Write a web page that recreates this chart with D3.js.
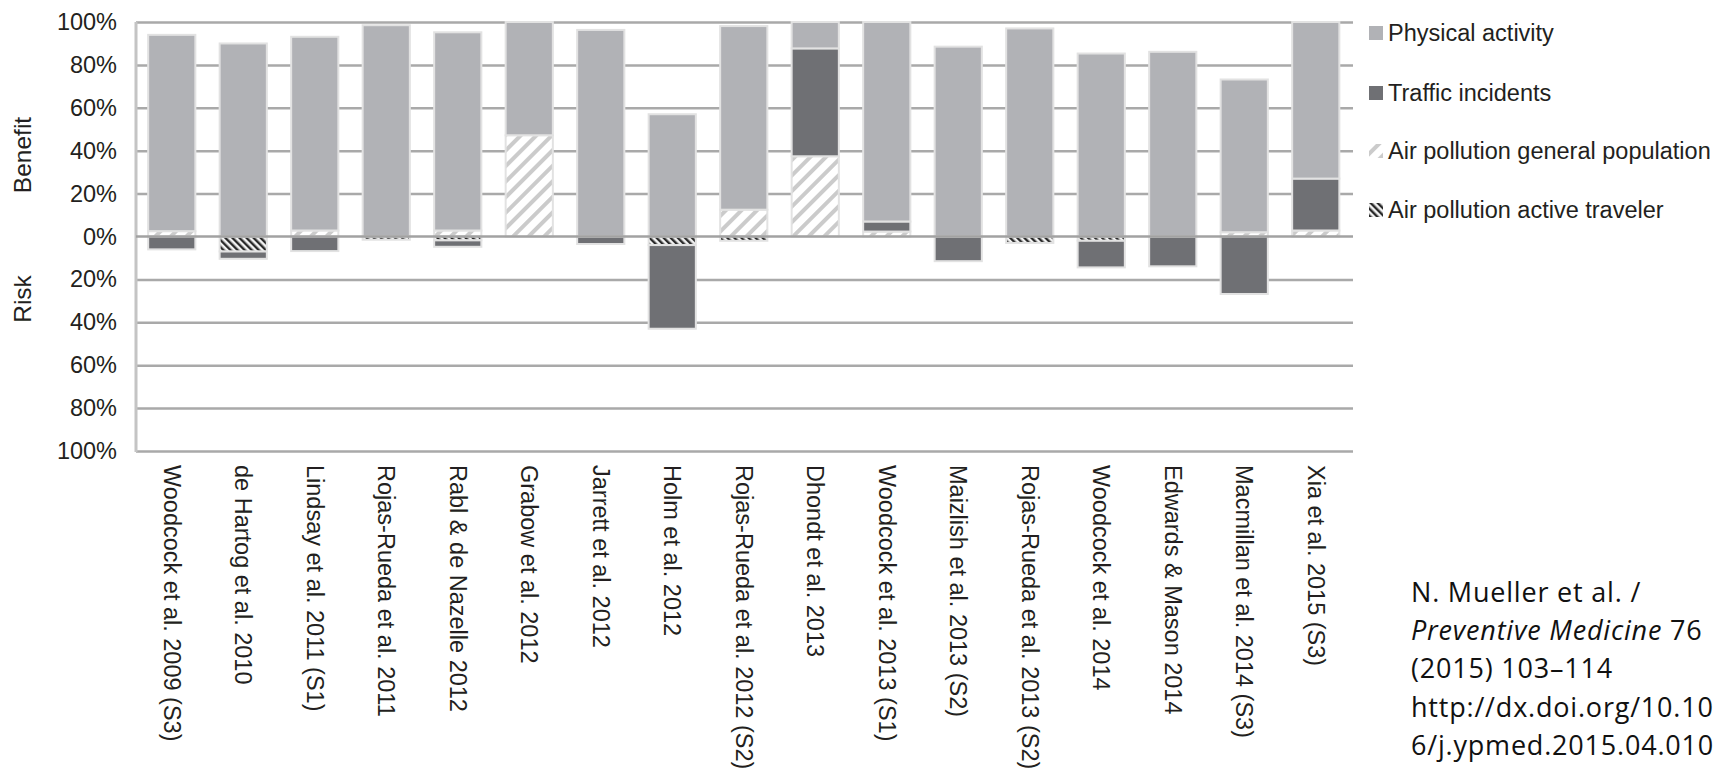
<!DOCTYPE html>
<html>
<head>
<meta charset="utf-8">
<script src="https://cdn.jsdelivr.net/npm/d3@7"></script>
<style>
  html, body { margin: 0; padding: 0; background: #fff; }
  svg { display: block; }
</style>
</head>
<body>
<svg id="chart" width="1716" height="773"></svg>
<script>
// Benefit (+) and risk (−) shares per study, in percent
const categories = [
  "Woodcock et al. 2009 (S3)", "de Hartog et al. 2010", "Lindsay et al. 2011 (S1)",
  "Rojas-Rueda et al. 2011", "Rabl & de Nazelle 2012", "Grabow et al. 2012",
  "Jarrett et al. 2012", "Holm et al. 2012", "Rojas-Rueda et al. 2012 (S2)",
  "Dhondt et al. 2013", "Woodcock et al. 2013 (S1)", "Maizlish et al. 2013 (S2)",
  "Rojas-Rueda et al. 2013 (S2)", "Woodcock et al. 2014", "Edwards & Mason 2014",
  "Macmillan et al. 2014 (S3)", "Xia et al. 2015 (S3)"
];
const physicalActivity     = [91.5, 90, 90.3, 98.5, 92.4, 52.8, 96.3, 57, 85.6, 12.3, 93, 88.5, 97, 85.3, 86.1, 71.2, 73];
const trafficIncidents     = [-6, -3.4, -6.8, 0, -3, 0, -3.5, -39, 0, 50.3, 4.7, -11.5, 0, -12.4, -13.9, -26.8, 24.2];
const airPollutionGeneral  = [2.5, 0, 2.8, 0, 2.8, 47.2, 0, 0, 12.5, 37.4, 2.3, 0, 0, 0, 0, 2, 2.8];
const airPollutionActive   = [0, -7, 0, -1.5, -1.8, 0, 0, -4, -2, 0, 0, 0, -3, -2, 0, 0, 0];

const seriesNames = ["Physical activity", "Traffic incidents", "Air pollution general population", "Air pollution active traveler"];
const tickValues = [-100, -80, -60, -40, -20, 0, 20, 40, 60, 80, 100];
const citationLines = [
  [{ t: "N. Mueller et al. /" }],
  [{ t: "Preventive Medicine", italic: true }, { t: " 76" }],
  [{ t: "(2015) 103\u2013114" }],
  [{ t: "http://dx.doi.org/10.10" }],
  [{ t: "6/j.ypmed.2015.04.010" }]
];

const rows = categories.map((c, i) => ({
  study: c,
  apGen: airPollutionGeneral[i],
  apActive: airPollutionActive[i],
  traffic: trafficIncidents[i],
  pa: physicalActivity[i]
}));

const FONT = "'Liberation Sans', Arial, Helvetica, sans-serif";
const TEXT = "#231f20";
const PA_FILL = "#b1b2b6";
const TRAFFIC_FILL = "#6f7074";

const svg = d3.select("#chart");
const plotLeft = 136, plotRight = 1353, plotTop = 22, plotBottom = 451;

// patterns
const defs = svg.append("defs");
const hatch = defs.append("pattern")
  .attr("id", "hatchGen").attr("patternUnits", "userSpaceOnUse")
  .attr("width", 11).attr("height", 11).attr("patternTransform", "rotate(45)");
hatch.append("rect").attr("width", 11).attr("height", 11).attr("fill", "#fff");
hatch.append("rect").attr("x", 0).attr("width", 4).attr("height", 11).attr("fill", "#cbcbcb");

const check = defs.append("pattern")
  .attr("id", "checkActive").attr("patternUnits", "userSpaceOnUse")
  .attr("width", 5).attr("height", 5).attr("patternTransform", "rotate(-45)");
check.append("rect").attr("width", 5).attr("height", 5).attr("fill", "#f2f2f2");
check.append("rect").attr("x", 0).attr("width", 2.4).attr("height", 5).attr("fill", "#2b2b2b");

const fills = {
  pa: PA_FILL,
  traffic: TRAFFIC_FILL,
  apGen: "url(#hatchGen)",
  apActive: "url(#checkActive)"
};

const x = d3.scaleBand().domain(categories).range([plotLeft, 1351.5]).paddingInner(0.34).paddingOuter(0.17);
const y = d3.scaleLinear().domain([-100, 100]).range([plotBottom, plotTop]);

// gridlines + tick labels
const axis = d3.axisLeft(y)
  .tickValues(tickValues)
  .tickSize(-(plotRight - plotLeft))
  .tickPadding(19)
  .tickFormat(d => Math.abs(d) + "%");

const gAxis = svg.append("g").attr("transform", `translate(${plotLeft},0)`).call(axis);
gAxis.select(".domain").remove();
gAxis.selectAll(".tick line")
  .attr("stroke", "#a9a9a9").attr("stroke-width", 2.5)
  .attr("opacity", d => d === 0 ? 0 : 1);
gAxis.selectAll(".tick text")
  .attr("font-family", FONT).attr("font-size", 23.5).attr("fill", TEXT);

// left axis line
svg.append("line")
  .attr("x1", plotLeft).attr("x2", plotLeft).attr("y1", plotTop).attr("y2", plotBottom + 1)
  .attr("stroke", "#c4c4c4").attr("stroke-width", 3);

// stacked bars
const stack = d3.stack()
  .keys(["apGen", "apActive", "traffic", "pa"])
  .offset(d3.stackOffsetDiverging);
const series = stack(rows);

svg.append("g").selectAll("g")
  .data(series)
  .join("g")
  .attr("fill", s => fills[s.key])
  .selectAll("rect")
  .data(s => s.filter(d => Math.abs(d[1] - d[0]) > 0))
  .join("rect")
  .attr("x", d => x(d.data.study))
  .attr("y", d => y(Math.max(d[0], d[1])))
  .attr("width", x.bandwidth())
  .attr("height", d => Math.abs(y(d[0]) - y(d[1])))
  .attr("stroke", "#e2e2e2")
  .attr("stroke-width", 2);

// zero line drawn over the bars
svg.append("line")
  .attr("x1", plotLeft).attr("x2", plotRight).attr("y1", y(0)).attr("y2", y(0))
  .attr("stroke", "#a2a2a2").attr("stroke-width", 2.5);

// category labels, rotated
svg.append("g").selectAll("text")
  .data(categories)
  .join("text")
  .attr("transform", d => `translate(${x(d) + x.bandwidth() / 2},465) rotate(90)`)
  .attr("dy", "0.35em")
  .attr("font-family", FONT).attr("font-size", 23.5).attr("fill", TEXT)
  .text(d => d);

// axis titles
svg.append("text")
  .attr("transform", `translate(22,155) rotate(-90)`)
  .attr("text-anchor", "middle").attr("dy", "0.35em")
  .attr("font-family", FONT).attr("font-size", 24.5).attr("fill", TEXT)
  .text("Benefit");
svg.append("text")
  .attr("transform", `translate(22,299) rotate(-90)`)
  .attr("text-anchor", "middle").attr("dy", "0.35em")
  .attr("font-family", FONT).attr("font-size", 24.5).attr("fill", TEXT)
  .text("Risk");

// legend
const legendKeys = ["pa", "traffic", "apGen", "apActive"];
const legendY = [33, 93, 151, 210];
const legend = svg.append("g").selectAll("g")
  .data(legendKeys)
  .join("g")
  .attr("transform", (d, i) => `translate(1369,${legendY[i]})`);
legend.append("rect")
  .attr("x", 0).attr("y", -7).attr("width", 14).attr("height", 14)
  .attr("fill", d => fills[d]);
legend.append("text")
  .attr("x", 19).attr("dy", "0.35em")
  .attr("font-family", FONT).attr("font-size", 23.5).attr("fill", TEXT)
  .text((d, i) => seriesNames[i]);

// citation
const cite = svg.append("g").selectAll("text")
  .data(citationLines)
  .join("text")
  .attr("x", 1411)
  .attr("y", (d, i) => 602 + i * 38.2)
  .attr("font-family", "'Open Sans', 'Noto Sans', sans-serif")
  .attr("font-size", 27)
  .attr("letter-spacing", 0.8)
  .attr("fill", "#111");
cite.selectAll("tspan")
  .data(d => d)
  .join("tspan")
  .attr("font-style", d => d.italic ? "italic" : null)
  .text(d => d.t);
</script>
</body>
</html>
